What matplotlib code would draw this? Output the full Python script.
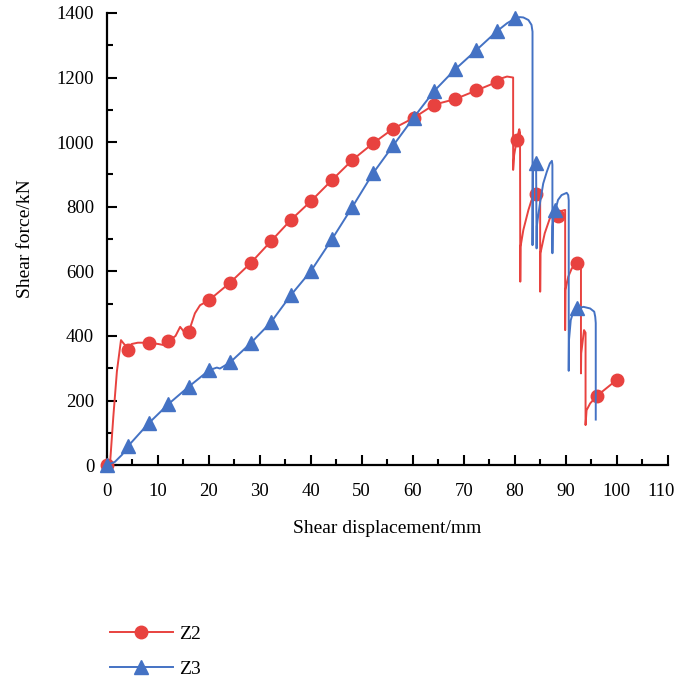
import matplotlib
matplotlib.use("Agg")
import matplotlib.pyplot as plt
from matplotlib.lines import Line2D
from matplotlib.ticker import MultipleLocator, FuncFormatter

plt.rcParams['font.family'] = ['Liberation Serif', 'DejaVu Serif']

# Z2 load-displacement curve
z2_x = [0, 0.7, 1.3, 2.0, 2.8, 3.4, 4.2, 4.9, 6.1, 8.2, 10.1, 11.1, 12.1, 13.5, 14.4,
        14.8, 15.3, 16.1, 17.3, 18.3, 20.1, 24.2, 28.2, 32.2, 36.1, 40.1, 44.2, 48.2,
        52.2, 56.2, 60.2, 64.2, 68.3, 72.5, 76.5, 77.5, 78.5, 79.7, 79.7, 79.9, 80.4,
        80.9, 81.05, 81.1, 81.15, 81.7, 82.7, 83.3, 84.1, 84.8, 85.0, 85.0, 85.05,
        85.9, 86.9, 87.9, 88.9, 89.9, 89.9, 89.95, 90.5, 91.2, 92.2, 93.0, 93.0,
        93.05, 93.6, 93.9, 93.9, 94.1, 94.8, 96.1, 100.1]
z2_y = [0, 15, 150, 290, 387, 375, 362, 375, 379, 379, 375, 372, 384, 400, 428,
        420, 410, 413, 470, 495, 511, 565, 625, 693, 759, 818, 883, 945,
        996, 1042, 1075, 1116, 1133, 1160, 1186, 1198, 1203, 1200, 914, 960, 1006,
        1040, 1030, 568, 676, 728, 790, 820, 838, 842, 840, 537, 656,
        718, 764, 780, 786, 790, 418, 542, 583, 609, 626, 630, 284,
        346, 418, 410, 124, 170, 191, 214, 265]
z2_mx = [0, 4.2, 8.2, 12.1, 16.1, 20.1, 24.2, 28.2, 32.2, 36.1, 40.1, 44.2, 48.2,
         52.2, 56.2, 60.2, 64.2, 68.3, 72.5, 76.5, 80.4, 84.1, 88.5, 92.2, 96.1, 100.1]
z2_my = [0, 356, 379, 384, 413, 511, 565, 625, 693, 759, 818, 883, 945,
         996, 1042, 1075, 1116, 1133, 1160, 1186, 1006, 838, 771, 626, 214, 265]

# Z3 load-displacement curve
z3_x = [0, 1.6, 3.0, 4.2, 8.2, 12.1, 16.1, 20.1, 21.6, 22.2, 24.2, 28.2, 32.2, 36.1,
        40.1, 44.2, 48.2, 52.2, 56.2, 60.2, 64.2, 68.3, 72.5, 76.5, 78.5, 80.1, 81.0,
        81.7, 82.7, 83.3, 83.5, 83.5, 83.6, 84.2, 84.3, 84.35, 84.5, 85.0, 85.6, 86.3,
        86.9, 87.3, 87.4, 87.4, 87.45, 87.6, 88.0, 88.5, 89.2, 90.2, 90.5, 90.6, 90.6,
        90.65, 91.0, 91.5, 92.2, 93.5, 94.8, 95.6, 95.8, 95.9, 95.9]
z3_y = [0, 10, 32, 59, 129, 189, 243, 294, 302, 299, 318, 377, 442, 526,
        602, 700, 800, 903, 990, 1076, 1158, 1225, 1285, 1343, 1368, 1383, 1387,
        1386, 1378, 1363, 1342, 681, 930, 935, 671, 740, 759, 815, 872, 908,
        934, 942, 930, 656, 738, 769, 790, 821, 836, 843, 836, 820, 292,
        387, 449, 475, 485, 490, 485, 475, 459, 440, 141]
z3_mx = [0, 4.2, 8.2, 12.1, 16.1, 20.1, 24.2, 28.2, 32.2, 36.1, 40.1, 44.2, 48.2,
         52.2, 56.2, 60.2, 64.2, 68.3, 72.5, 76.5, 80.1, 84.1, 88.0, 92.2]
z3_my = [0, 59, 129, 189, 243, 294, 318, 377, 442, 526, 602, 700, 800,
         903, 990, 1076, 1158, 1225, 1285, 1343, 1383, 934, 790, 485]

series_names = ['Z2', 'Z3']
x_max = 110
red = '#E8423F'
blue = '#4472C4'
tick_size = 13.5

fig = plt.figure(figsize=(6.77, 6.80), dpi=100)
ax = fig.add_axes([0.1576, 0.316, 0.8286, 0.665])

ax.plot(z2_x, z2_y, color=red, lw=1.4, zorder=3)
ax.plot(z2_mx, z2_my, ls='none', marker='o', ms=9, color=red, zorder=4, clip_on=False)
ax.plot(z3_x, z3_y, color=blue, lw=1.4, zorder=5)
ax.plot(z3_mx, z3_my, ls='none', marker='^', ms=10, color=blue, zorder=6, clip_on=False)

ax.set_xlim(0, x_max)
ax.set_ylim(0, 1400)
ax.xaxis.set_major_locator(MultipleLocator(10))
ax.xaxis.set_minor_locator(MultipleLocator(5))
ax.yaxis.set_major_locator(MultipleLocator(200))
ax.yaxis.set_minor_locator(MultipleLocator(100))
# the label of the final tick is placed separately so it stays on the canvas
ax.xaxis.set_major_formatter(FuncFormatter(
    lambda v, p: '' if abs(v - x_max) < 1e-6 else f'{v:.0f}'))
for s in ['top', 'right']:
    ax.spines[s].set_visible(False)
for s in ['left', 'bottom']:
    ax.spines[s].set_linewidth(1.6)
    ax.spines[s].set_color('black')
ax.tick_params(which='major', direction='in', length=7, width=1.5,
               labelsize=tick_size, pad=9)
ax.tick_params(which='minor', direction='in', length=4, width=1.5)
ax.tick_params(axis='x', which='major', pad=13)

ax.annotate(f'{x_max}', xy=(x_max, 0), xycoords=('data', 'axes fraction'),
            xytext=(-5, -13), textcoords='offset points',
            ha='center', va='top', fontsize=tick_size, annotation_clip=False)

ax.set_xlabel('Shear displacement/mm', fontsize=14, labelpad=14)
ax.set_ylabel('Shear force/kN', fontsize=14, labelpad=16)

handles = [
    Line2D([], [], color=red, lw=1.4, marker='o', ms=9),
    Line2D([], [], color=blue, lw=1.4, marker='^', ms=10),
]
fig.legend(handles, series_names, loc='upper left', bbox_to_anchor=(0.163, 0.081),
           frameon=False, fontsize=14, handlelength=3.2, handletextpad=0.35,
           labelspacing=0.9, borderpad=0, borderaxespad=0)

fig.savefig('out.png', dpi=100)
